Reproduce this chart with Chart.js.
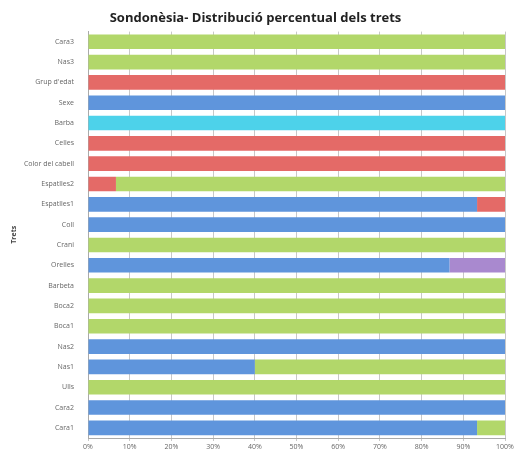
<!DOCTYPE html>
<html>
<head>
<meta charset="utf-8">
<script src="https://cdn.jsdelivr.net/npm/chart.js@4/dist/chart.umd.min.js"></script>
<style>
  html,body{margin:0;padding:0;background:#fff;}
  #wrap{width:517px;height:453px;position:relative;}
</style>
</head>
<body>
<div id="wrap"><canvas id="myChart"></canvas></div>
<script>
// trets, de dalt a baix
var categories = ['Cara3','Nas3',"Grup d'edat",'Sexe','Barba','Celles','Color del cabell','Espatlles2','Espatlles1','Coll','Crani','Orelles','Barbeta','Boca2','Boca1','Nas2','Nas1','Ulls','Cara2','Cara1'];

// percentatges per serie
var blau    = [0,0,0,100,0,0,0,0,93.3,100,0,86.7,0,0,0,100,40,0,100,93.3];
var vermell = [0,0,100,0,0,100,100,6.7,6.7,0,0,0,0,0,0,0,0,0,0,0];
var verd    = [100,100,0,0,0,0,0,93.3,0,0,100,0,100,100,100,0,60,100,0,6.7];
var cian    = [0,0,0,0,100,0,0,0,0,0,0,0,0,0,0,0,0,0,0,0];
var lila    = [0,0,0,0,0,0,0,0,0,0,0,13.3,0,0,0,0,0,0,0,0];

var tickLabels = ['0%','10%','20%','30%','40%','50%','60%','70%','80%','90%','100%'];

function serie(name, data, color){
  return {
    label: name,
    data: data,
    backgroundColor: color,
    borderWidth: 0,
    barPercentage: 0.9,
    categoryPercentage: 0.8
  };
}

var ctx = document.getElementById('myChart');
var myChart = new Chart(ctx, {
  type: 'bar',
  data: {
    labels: categories,
    datasets: [
      serie('Blau', blau, '#5f95dc'),
      serie('Vermell', vermell, '#e46a67'),
      serie('Verd', verd, '#b2d76a'),
      serie('Cian', cian, '#4dd2ea'),
      serie('Lila', lila, '#a989cf')
    ]
  },
  options: {
    indexAxis: 'y',
    responsive: true,
    maintainAspectRatio: false,
    animation: false,
    layout: { padding: { left: 6, right: 12, top: 0, bottom: 0 } },
    plugins: {
      legend: { display: false },
      tooltip: { enabled: false },
      title: {
        display: true,
        text: 'Sondonèsia- Distribució percentual dels trets',
        color: '#222',
        font: { family: 'Open Sans', size: 13, weight: 'bold' },
        padding: { top: 10, bottom: 6 }
      }
    },
    scales: {
      x: {
        stacked: true,
        min: 0,
        max: 100,
        grid: { color: '#c8c8c8', drawTicks: true, tickLength: 3 },
        border: { color: '#aaa' },
        ticks: {
          stepSize: 10,
          color: '#666',
          font: { family: 'Open Sans', size: 7 },
          padding: 2,
          callback: function(v){ return tickLabels[Math.round(v/10)]; }
        },
        afterFit: function(scale){ scale.height = 15; }
      },
      y: {
        stacked: true,
        grid: { display: false },
        border: { color: '#aaa' },
        title: {
          display: true,
          text: 'Trets',
          color: '#444',
          font: { family: 'Open Sans', size: 7, weight: 'bold' }
        },
        ticks: {
          color: '#666',
          font: { family: 'Open Sans', size: 7 },
          padding: 6
        },
        afterFit: function(scale){ scale.width = 82; }
      }
    }
  }
});
</script>
</body>
</html>
